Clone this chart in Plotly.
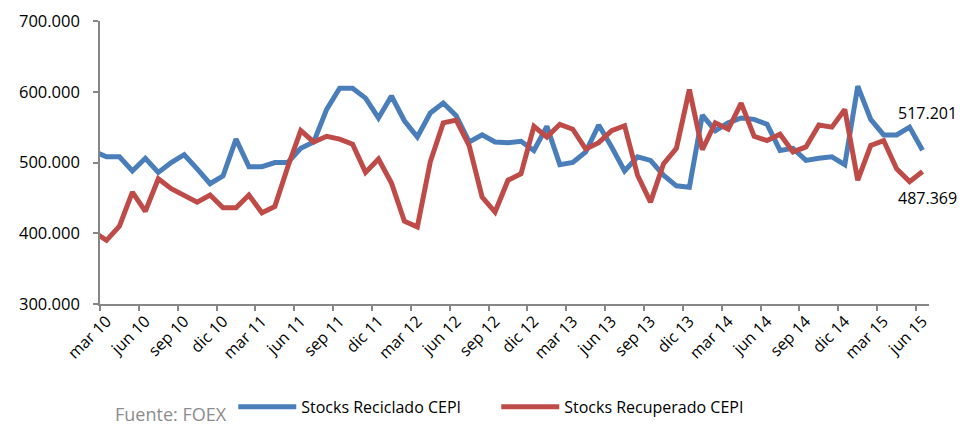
import numpy as np
import plotly.graph_objects as go

# month names (spanish) and the months shown, feb 10 sits just outside the axis (clipped, like the original)
month_names = ["ene", "feb", "mar", "abr", "may", "jun", "jul", "ago", "sep", "oct", "nov", "dic"]
months = [f"{month_names[m]} {y % 100:02d}" for y in range(2010, 2016) for m in range(12)]
months = months[months.index("feb 10"):months.index("jun 15") + 1]

stocks_reciclado = [
    516000, 508000, 508000, 488000, 506000, 486000, 500000, 511000, 491000, 470000, 481000,
    533000, 494000, 494000, 500000, 500000, 520000, 529000, 575000, 605000, 605000, 591000,
    563000, 594000, 559000, 536000, 570000, 584000, 566000, 529000, 539000, 529000, 528000,
    530000, 517000, 551000, 497000, 500000, 515000, 553000, 522000, 488000, 508000, 503000,
    482000, 467000, 465000, 567000, 545000, 556000, 563000, 561000, 554000, 517000, 520000,
    503000, 506000, 508000, 497000, 608000, 561000, 539000, 539000, 550000, 517201,
]
stocks_recuperado = [
    402000, 390000, 410000, 458000, 431000, 477000, 463000, 454000, 444000, 454000, 436000,
    436000, 454000, 429000, 438000, 494000, 545000, 529000, 537000, 533000, 526000, 486000,
    505000, 471000, 417000, 409000, 501000, 556000, 560000, 524000, 451000, 430000, 475000,
    484000, 551000, 536000, 554000, 547000, 519000, 528000, 545000, 552000, 482000, 444000,
    498000, 520000, 603000, 518000, 556000, 547000, 584000, 537000, 531000, 540000, 515000,
    522000, 553000, 550000, 575000, 475000, 524000, 531000, 491000, 473000, 487369,
]

x = np.arange(len(months))
tick_pos = x[1::3]
tick_text = months[1::3]

font = "Open Sans, Noto Sans, Arial"
axis_gray = "#868686"

fig = go.Figure()
fig.add_trace(go.Scatter(x=x, y=stocks_reciclado, mode="lines", name="Stocks Reciclado CEPI",
                         line=dict(color="#4A7EBB", width=5)))
fig.add_trace(go.Scatter(x=x, y=stocks_recuperado, mode="lines", name="Stocks Recuperado CEPI",
                         line=dict(color="#BE4B48", width=5)))

# end labels
fig.add_annotation(x=x[-1], y=stocks_reciclado[-1], text="517.201", showarrow=False,
                   xshift=5, yshift=37, font=dict(size=16, color="#000"))
fig.add_annotation(x=x[-1], y=stocks_recuperado[-1], text="487.369", showarrow=False,
                   xshift=5, yshift=-27, font=dict(size=16, color="#000"))
fig.add_annotation(xref="paper", yref="paper", x=0.016, y=-0.388, xanchor="left", yanchor="middle",
                   text="Fuente: FOEX", showarrow=False, font=dict(size=18, color="#8c8c8c"))

fig.update_xaxes(
    range=[0.5, len(months) - 0.5], automargin=False,
    tickmode="array", tickvals=tick_pos, ticktext=tick_text, tickangle=-45,
    ticks="", showgrid=False, zeroline=False, ticklabeloverflow="allow",
    showline=True, linecolor=axis_gray, linewidth=1.5,
    minor=dict(tickmode="array", tickvals=tick_pos - 0.5, ticks="outside", ticklen=5,
               tickcolor=axis_gray, tickwidth=1.5, showgrid=False),
    tickfont=dict(size=16, color="#000"),
)
fig.update_yaxes(
    range=[300000, 700000], dtick=100000, tickformat=",d", automargin=False,
    ticks="outside", ticklen=5, tickcolor=axis_gray, tickwidth=1.5, ticklabelstandoff=10,
    ticklabeloverflow="allow",
    showgrid=False, zeroline=False, showline=True, linecolor=axis_gray, linewidth=1.5,
    tickfont=dict(size=16.5, color="#000"),
)
# the page puts the figure 8px in from the top-left corner, so the figure is 8px smaller
fig.update_layout(
    width=968, height=419,
    margin=dict(l=92, r=47, t=13, b=123),
    separators=",.",
    font=dict(family=font),
    plot_bgcolor="white", paper_bgcolor="white",
    showlegend=True,
    legend=dict(orientation="h", x=0.478, xanchor="center",
                yref="container", y=0.048, yanchor="middle",
                itemwidth=58, entrywidth=190, font=dict(size=16, color="#000")),
)

fig.write_html("out.html")
